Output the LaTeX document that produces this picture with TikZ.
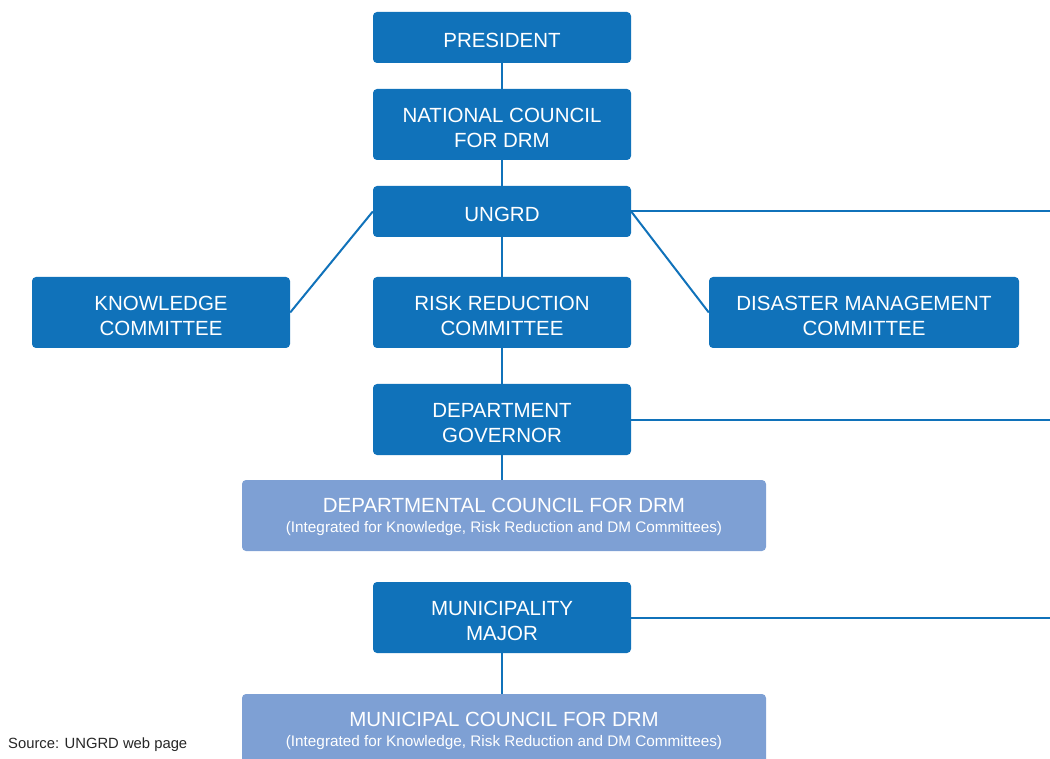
\documentclass[tikz,border=0pt]{standalone}
\usepackage{fontspec}
\setmainfont{Liberation Sans}
\definecolor{dblue}{HTML}{1072BA}
\definecolor{lblue}{HTML}{7EA0D4}
\newcommand\myup{\rule{0pt}{20.5pt}}
\begin{document}
\begin{tikzpicture}[x=1pt,y=-1pt,
  box/.style={fill=dblue, rounded corners=4pt, text=white, align=center, inner sep=0pt,
    text depth=0pt, font=\fontsize{20.5}{25}\selectfont, minimum height=71pt},
  lbox/.style={fill=lblue, rounded corners=4pt, text=white, align=center, inner sep=0pt,
    text depth=0pt, font=\fontsize{20.5}{22}\selectfont, minimum height=71pt, minimum width=524pt},
  link/.style={draw=dblue, line width=2pt}]
\useasboundingbox (0,0) rectangle (1050,759);
\node[box, minimum width=258pt, minimum height=51pt] (pres) at (502,37.5) {\myup PRESIDENT};
\node[box, minimum width=258pt] (nat) at (502,124.5) {\myup NATIONAL COUNCIL\\FOR DRM};
\node[box, minimum width=258pt, minimum height=51pt] (ungrd) at (502,211.5) {\myup UNGRD};
\node[box, minimum width=258pt] (know) at (161,312.5) {\myup KNOWLEDGE\\COMMITTEE};
\node[box, minimum width=258pt] (risk) at (502,312.5) {\myup RISK REDUCTION\\COMMITTEE};
\node[box, minimum width=310pt] (dis) at (864,312.5) {\myup DISASTER MANAGEMENT\\COMMITTEE};
\node[box, minimum width=258pt] (gov) at (502,419.5) {\myup DEPARTMENT\\GOVERNOR};
\node[lbox] (dep) at (504,515.5) {DEPARTMENTAL COUNCIL FOR DRM\\[-2pt]{\fontsize{15.3}{17}\selectfont (Integrated for Knowledge, Risk Reduction and DM Committees)}};
\node[box, minimum width=258pt] (mun) at (502,617.5) {\myup MUNICIPALITY\\MAJOR};
\node[lbox] (mc) at (504,729.5) {MUNICIPAL COUNCIL FOR DRM\\[-2pt]{\fontsize{15.3}{17}\selectfont (Integrated for Knowledge, Risk Reduction and DM Committees)}};
\node[anchor=west, inner sep=0pt, font=\fontsize{14.8}{16}\selectfont, text=black!85] (src) at (8,745) {Source: UNGRD web page};
\coordinate (r1) at (1050,211.5);
\coordinate (r2) at (1050,419.5);
\coordinate (r3) at (1050,617.5);
\draw[link] (pres.south) -- (nat.north);
\draw[link] (nat.south) -- (ungrd.north);
\draw[link] (ungrd.south) -- (risk.north);
\draw[link] (risk.south) -- (gov.north);
\draw[link] (gov.south) -- (gov.south |- dep.north);
\draw[link] (mun.south) -- (mun.south |- mc.north);
\draw[link] (ungrd.west) -- (know.east);
\draw[link] (ungrd.east) -- (dis.west);
\draw[link] (ungrd.east) -- (r1);
\draw[link] (gov.east) -- (r2);
\draw[link] (mun.east) -- (r3);
\end{tikzpicture}
\end{document}
